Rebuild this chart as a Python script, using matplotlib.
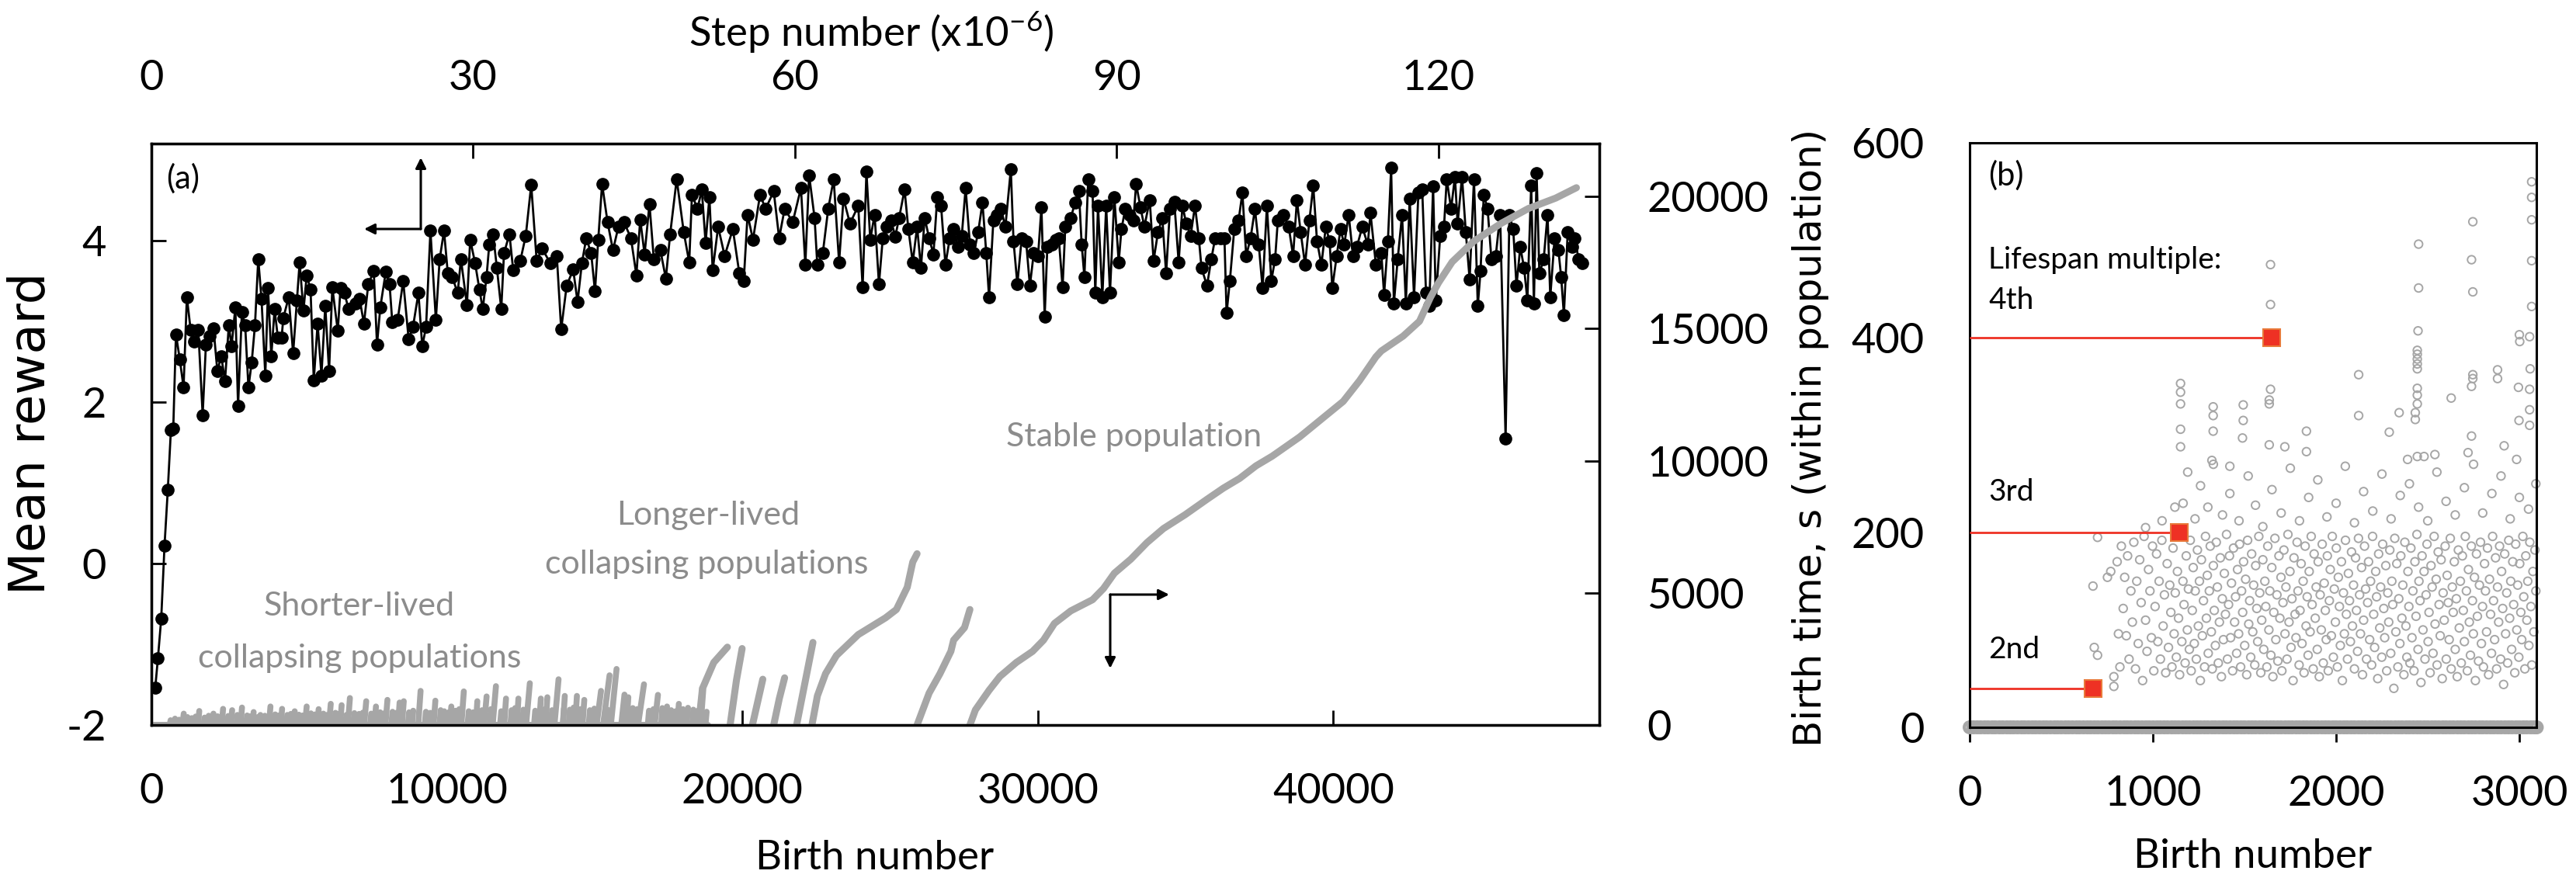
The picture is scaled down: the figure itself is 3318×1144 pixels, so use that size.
import matplotlib
matplotlib.use('Agg')
import matplotlib.pyplot as plt

plt.rcParams['font.family'] = ['Lato', 'DejaVu Sans']
plt.rcParams['axes.unicode_minus'] = False
plt.rcParams['mathtext.fontset'] = 'custom'
plt.rcParams['mathtext.rm'] = 'Lato'
plt.rcParams['mathtext.default'] = 'regular'

# ---------------- Panel (a) data ----------------
reward_birth = [
    130, 222, 333, 444, 555, 660, 740, 831, 960, 1089,
    1200, 1329, 1458, 1587, 1735, 1845, 1974, 2103, 2233, 2362,
    2491, 2620, 2712, 2841, 2933, 3062, 3173, 3284, 3394, 3505,
    3616, 3726, 3855, 3947, 4058, 4169, 4279, 4408, 4464, 4648,
    4796, 4925, 5017, 5146, 5257, 5386, 5496, 5625, 5755, 5884,
    6013, 6123, 6308, 6400, 6529, 6677, 6898, 7045, 7193, 7340,
    7525, 7635, 7746, 7930, 8060, 8152, 8336, 8521, 8705, 8853,
    9037, 9166, 9295, 9443, 9627, 9756, 9903, 10032, 10180, 10365,
    10475, 10678, 10789, 10955, 11102, 11213, 11342, 11434, 11563, 11692,
    11840, 11932, 12116, 12245, 12485, 12670, 12854, 13038, 13223, 13499,
    13720, 13868, 14053, 14274, 14422, 14569, 14717, 14883, 15012, 15122,
    15252, 15436, 15620, 15805, 15989, 16229, 16413, 16542, 16690, 16855,
    17003, 17224, 17409, 17556, 17777, 18017, 18201, 18294, 18479, 18626,
    18755, 18884, 18995, 19179, 19400, 19677, 19898, 20046, 20175, 20359,
    20599, 20783, 21060, 21244, 21429, 21705, 21982, 22130, 22258, 22443,
    22535, 22720, 22904, 23089, 23273, 23421, 23641, 23921, 24069, 24198,
    24327, 24474, 24622, 24751, 24880, 25027, 25175, 25304, 25488, 25617,
    25765, 25913, 26042, 26171, 26318, 26466, 26595, 26724, 26871, 27019,
    27148, 27296, 27425, 27554, 27701, 27830, 27978, 28125, 28254, 28347,
    28494, 28623, 28752, 28900, 29084, 29176, 29305, 29453, 29601, 29730,
    29859, 30006, 30120, 30230, 30320, 30467, 30596, 30707, 30836, 30928,
    31113, 31260, 31389, 31482, 31574, 31703, 31850, 31943, 32035, 32182,
    32311, 32440, 32588, 32735, 32828, 32957, 33104, 33233, 33325, 33473,
    33602, 33786, 33915, 34063, 34210, 34340, 34469, 34616, 34764, 34893,
    35022, 35169, 35317, 35446, 35538, 35723, 35870, 35999, 36184, 36313,
    36386, 36497, 36645, 36792, 36921, 37050, 37198, 37345, 37474, 37604,
    37751, 37899, 38028, 38120, 38305, 38489, 38637, 38766, 38894, 39042,
    39190, 39318, 39447, 39595, 39743, 39872, 39964, 40112, 40240, 40369,
    40517, 40665, 40794, 40978, 41163, 41255, 41439, 41623, 41716, 41845,
    41955, 42047, 42177, 42324, 42453, 42582, 42730, 42877, 43006, 43135,
    43246, 43375, 43467, 43615, 43744, 43836, 43984, 44113, 44205, 44353,
    44482, 44611, 44758, 44887, 44980, 45090, 45219, 45348, 45496, 45643,
    45828, 45957, 46086, 46196, 46325, 46454, 46565, 46694, 46786, 46878,
    46971, 47118, 47247, 47340, 47487, 47616, 47708, 47801, 47930, 48077,
    48169, 48298, 48409,
]
mean_reward = [
    -1.54, -1.17, -0.68, 0.22, 0.91, 1.65, 1.67, 2.84, 2.53, 2.18,
    3.30, 2.89, 2.75, 2.89, 1.84, 2.71, 2.82, 2.91, 2.38, 2.57,
    2.26, 2.95, 2.69, 3.17, 1.95, 3.11, 2.95, 2.18, 2.49, 2.95,
    3.77, 3.28, 2.33, 3.41, 2.57, 3.15, 2.80, 2.80, 3.04, 3.30,
    2.60, 3.26, 3.73, 3.13, 3.57, 3.39, 2.27, 2.97, 2.33, 3.19,
    2.38, 3.42, 2.88, 3.41, 3.35, 3.15, 3.22, 3.28, 2.97, 3.46,
    3.62, 2.71, 3.17, 3.61, 3.46, 2.99, 3.02, 3.50, 2.78, 2.93,
    3.35, 2.69, 2.93, 4.12, 3.02, 3.77, 4.12, 3.59, 3.55, 3.35,
    3.77, 3.20, 4.01, 3.72, 3.39, 3.15, 3.55, 3.95, 4.08, 3.66,
    3.15, 3.84, 4.08, 3.63, 3.75, 4.06, 4.69, 3.75, 3.90, 3.72,
    3.81, 2.90, 3.44, 3.64, 3.24, 3.72, 4.03, 3.84, 3.37, 4.01,
    4.70, 4.23, 3.88, 4.17, 4.23, 4.03, 3.57, 4.26, 3.83, 4.45,
    3.77, 3.88, 3.53, 4.08, 4.76, 4.10, 3.73, 4.57, 4.39, 4.63,
    3.97, 4.54, 3.63, 4.17, 3.81, 4.14, 3.59, 3.50, 4.32, 4.01,
    4.57, 4.39, 4.61, 4.03, 4.39, 4.23, 4.65, 3.70, 4.81, 4.28,
    3.70, 3.84, 4.39, 4.76, 3.73, 4.52, 4.21, 4.43, 3.42, 4.85,
    4.01, 4.32, 3.46, 4.03, 4.17, 4.25, 4.05, 4.28, 4.63, 4.14,
    3.73, 4.17, 3.66, 4.28, 4.03, 3.83, 4.54, 4.43, 3.70, 4.03,
    4.14, 3.92, 4.06, 4.65, 3.95, 3.84, 4.10, 4.47, 3.84, 3.30,
    4.25, 4.32, 4.39, 4.17, 4.88, 3.99, 3.46, 4.03, 3.99, 3.44,
    3.84, 3.81, 4.41, 3.06, 3.92, 3.95, 4.01, 4.03, 3.42, 4.17,
    4.28, 4.47, 4.61, 3.95, 3.55, 4.76, 4.61, 3.35, 4.43, 3.30,
    4.43, 3.35, 4.54, 3.73, 4.14, 4.39, 4.32, 4.25, 4.70, 4.41,
    4.17, 4.50, 3.75, 4.10, 4.28, 3.59, 4.39, 4.48, 3.73, 4.43,
    4.21, 4.06, 4.43, 4.03, 3.66, 3.44, 3.77, 4.03, 4.03, 4.03,
    3.10, 3.50, 4.14, 4.25, 4.59, 3.81, 4.03, 4.39, 3.95, 3.41,
    4.43, 3.50, 3.77, 4.25, 4.32, 4.17, 3.81, 4.50, 4.10, 3.70,
    4.25, 4.68, 3.99, 3.70, 4.17, 3.99, 3.41, 3.81, 4.14, 3.95,
    4.32, 3.81, 3.92, 4.17, 3.95, 4.34, 3.70, 3.84, 3.33, 3.99,
    4.90, 3.22, 3.77, 4.32, 3.22, 4.52, 3.30, 4.59, 4.63, 3.35,
    3.19, 4.67, 3.26, 4.06, 4.17, 4.76, 4.39, 4.79, 4.21, 4.79,
    4.10, 3.52, 4.76, 3.19, 3.62, 4.57, 4.39, 3.77, 3.81, 4.32,
    1.55, 4.32, 4.14, 3.44, 3.92, 3.66, 3.26, 4.68, 3.22, 4.83,
    3.59, 3.77, 4.32, 3.30, 4.03, 3.88, 3.55, 3.08, 4.10, 3.92,
    4.03, 3.77, 3.72,
]

# Population age lines (right axis): stable, longer-lived and tall collapsing ones
stable_birth = [27700, 27886, 28347, 28716, 29269, 29822, 30190, 30560, 31113, 31850,
                32219, 32588, 33141, 33694, 34248, 34985, 35723, 36276, 36829, 37382,
                37935, 38858, 39595, 40333, 40886, 41439, 41623, 42361, 42914, 43283,
                43559, 44020, 44758, 45680, 46602, 47524, 48225]
stable_age = [0, 571, 1310, 1837, 2365, 2787, 3210, 3843, 4318, 4740,
              5162, 5743, 6270, 6904, 7432, 7959, 8540, 8962, 9332, 9807,
              10176, 10898, 11572, 12245, 13031, 13930, 14154, 14716, 15278, 16176,
              16737, 17523, 18310, 18983, 19545, 19938, 20331]
longer1_birth = [22354, 22538, 22815, 23183, 23921, 24843, 25212, 25580, 25765, 25912]
longer1_age = [0, 1100, 1943, 2629, 3420, 4054, 4370, 5215, 6165, 6481]
longer2_birth = [25912, 26318, 26687, 27056, 27148, 27517, 27700]
longer2_age = [0, 1204, 1943, 2788, 3210, 3685, 4370]
tall_births = [[18570, 18663, 19031, 19492], [19585, 19800, 19991], [20340, 20691],
               [21060, 21250, 21429], [21835, 22100, 22388]]
tall_ages = [[0, 1415, 2365, 2946], [0, 1700, 2893], [0, 1732],
             [0, 1000, 1785], [0, 1500, 3125]]

# Short-lived collapsing populations: (first birth, last birth, final age)
short_pops = [
    (1050, 1095, 430), (1580, 1620, 530), (2060, 2100, 430), (2380, 2426, 610),
    (2690, 2733, 560), (3020, 3066, 660), (3420, 3460, 490), (3980, 4029, 700),
    (4380, 4423, 610), (4800, 4850, 520), (5200, 5255, 700), (5620, 5660, 600),
    (6010, 6070, 800), (6390, 6438, 750), (6650, 6718, 1020), (7200, 7270, 900),
    (7550, 7600, 700), (7920, 7988, 950), (8350, 8400, 850), (8480, 8541, 900),
    (9030, 9110, 1290), (9550, 9610, 920), (10100, 10150, 700), (10490, 10573, 1270),
    (10980, 11030, 900), (11260, 11344, 1080), (11550, 11660, 1470), (11940, 12001, 1000),
    (12370, 12420, 1000), (12680, 12807, 1580), (13120, 13180, 1000), (13340, 13400, 1050),
    (13640, 13779, 1730), (13930, 13990, 1100), (14340, 14400, 1100), (14590, 14650, 950),
    (15067, 15216, 1290), (15286, 15505, 1880), (15549, 15742, 2120), (15900, 16010, 1150),
    (16080, 16140, 1050), (16469, 16670, 1540), (17030, 17143, 1140), (17400, 17450, 700),
    (17800, 17850, 800), (18110, 18160, 650), (18500, 18632, 1390),
]
tiny_pops = [
    (620, 650, 180), (760, 800, 240), (905, 940, 200), (1180, 1220, 300), (1330, 1370, 260),
    (1470, 1500, 320), (1760, 1800, 280), (1900, 1940, 350), (2200, 2240, 330), (2290, 2330, 300),
    (2560, 2600, 340), (2870, 2910, 380), (3200, 3240, 360), (3300, 3340, 330), (3560, 3600, 300),
    (3650, 3690, 380), (3800, 3840, 350), (4150, 4190, 400), (4270, 4310, 360), (4560, 4600, 380),
    (4680, 4720, 420), (4950, 4990, 390), (5080, 5120, 360), (5360, 5400, 440), (5500, 5540, 400),
    (5780, 5820, 430), (5900, 5940, 380), (6190, 6230, 460), (6290, 6330, 420), (6560, 6600, 380),
    (6830, 6870, 450), (6990, 7030, 420), (7120, 7160, 470), (7400, 7440, 430), (7700, 7740, 480),
    (7830, 7870, 440), (8120, 8160, 500), (8250, 8290, 460), (8400, 8440, 520), (8680, 8720, 480),
    (8820, 8860, 540), (9250, 9290, 500), (9400, 9440, 460), (9750, 9790, 560), (9870, 9910, 520),
    (10020, 10060, 480), (10250, 10290, 540), (10380, 10420, 600), (10700, 10740, 520),
    (10850, 10890, 480), (11150, 11190, 560), (11450, 11490, 600), (11800, 11840, 520),
    (12150, 12190, 560), (12270, 12310, 640), (12550, 12590, 580), (12950, 12990, 540),
    (13280, 13320, 600), (13520, 13560, 560), (13920, 13960, 620), (14120, 14160, 580),
    (14250, 14290, 660), (14480, 14520, 600), (14800, 14840, 560), (14950, 14990, 620),
    (15400, 15440, 580), (16000, 16040, 560), (16250, 16290, 640), (16400, 16440, 600),
    (16800, 16840, 540), (16950, 16990, 600), (17250, 17290, 640), (17550, 17590, 560),
    (17700, 17740, 520), (17950, 17990, 600), (18300, 18340, 580), (18450, 18490, 540),
    (18750, 18790, 500),
]
baseline_birth = [0, 18800]
baseline_age = [0, 0]

bottom_ticks = [0, 10000, 20000, 30000, 40000]
left_ticks = [-2, 0, 2, 4]
right_ticks = [0, 5000, 10000, 15000, 20000]
top_ticks = [0, 30, 60, 90, 120]

# ---------------- Panel (b) data ----------------
zero_row_birth = [
    0, 20, 41, 60, 82, 101, 123, 140, 162, 181, 203, 222, 240, 261, 283, 300, 321, 342, 360, 381,
    402, 420, 441, 463, 480, 500, 522, 540, 561, 583, 600, 621, 642, 660, 681, 700, 722, 741, 760, 782,
    800, 821, 843, 860, 880, 902, 920, 941, 962, 980, 1001, 1022, 1040, 1061, 1080, 1102, 1121, 1140,
    1162, 1181, 1200, 1222, 1241, 1260, 1281, 1300, 1322, 1340, 1361, 1382, 1400, 1421, 1442, 1460,
    1481, 1500, 1522, 1541, 1560, 1582, 1600, 1621, 1642, 1660, 1681, 1700, 1722, 1741, 1760, 1782,
    1800, 1821, 1840, 1862, 1881, 1900, 1922, 1941, 1960, 1982, 2000, 2021, 2042, 2060, 2081, 2100,
    2122, 2141, 2160, 2182, 2200, 2221, 2240, 2262, 2281, 2300, 2322, 2341, 2360, 2382, 2400, 2421,
    2442, 2460, 2481, 2500, 2522, 2541, 2560, 2582, 2600, 2621, 2640, 2662, 2681, 2700, 2722, 2741,
    2760, 2782, 2800, 2821, 2842, 2860, 2881, 2900, 2922, 2941, 2960, 2982, 3000, 3021, 3040, 3062,
    3081, 3095,
]
cloud_low = [
    (673, 145), (680, 82), (698, 74), (698, 195), (752, 154), (770, 160), (787, 52), (787, 42),
    (805, 170), (812, 96), (820, 62), (828, 186), (838, 122), (846, 154), (855, 94), (862, 176),
    (870, 70), (880, 140), (888, 108), (896, 190),
    (905, 60), (912, 150), (920, 86), (928, 172), (936, 128), (944, 48), (952, 196), (960, 110),
    (968, 78), (976, 162), (984, 140), (992, 92), (998, 186),
    (1005, 58), (1012, 124), (1020, 178), (1027, 88), (1034, 150), (1041, 70), (1049, 192),
    (1056, 104), (1063, 136), (1070, 56), (1078, 168), (1085, 82), (1092, 146), (1098, 118),
    (1104, 62), (1110, 184), (1116, 96), (1122, 138), (1128, 72), (1134, 160), (1140, 112),
    (1146, 54), (1152, 198), (1158, 88), (1164, 150), (1170, 126), (1176, 66), (1182, 176),
    (1188, 100), (1194, 142), (1199, 80),
    (1204, 192), (1209, 58), (1215, 120), (1220, 164), (1226, 86), (1231, 140), (1237, 70),
    (1243, 182), (1248, 104), (1254, 150), (1259, 48), (1265, 172), (1270, 94), (1276, 130),
    (1282, 62), (1287, 196), (1292, 112), (1297, 156),
    (1302, 76), (1308, 140), (1313, 186), (1319, 98), (1324, 60), (1330, 166), (1335, 120),
    (1341, 84), (1346, 190), (1352, 144), (1357, 66), (1363, 108), (1368, 174), (1374, 52),
    (1379, 132), (1385, 90), (1390, 158), (1396, 116),
    (1402, 198), (1407, 70), (1413, 126), (1418, 176), (1424, 92), (1429, 148), (1435, 58),
    (1440, 184), (1446, 108), (1451, 134), (1457, 76), (1462, 162), (1468, 96), (1473, 188),
    (1479, 62), (1484, 140), (1490, 118), (1495, 170),
    (1501, 84), (1506, 152), (1512, 54), (1517, 192), (1523, 106), (1528, 130), (1534, 72),
    (1539, 178), (1545, 98), (1550, 146), (1556, 64), (1561, 166), (1567, 122), (1572, 88),
    (1578, 196), (1583, 138), (1589, 56), (1594, 110),
    (1600, 172), (1605, 80), (1611, 150), (1616, 124), (1622, 62), (1627, 186), (1633, 100),
    (1638, 140), (1644, 74), (1649, 164), (1655, 52), (1660, 118), (1666, 194), (1671, 90),
    (1677, 136), (1682, 68), (1688, 176), (1693, 112),
    (1699, 154), (1704, 58), (1710, 128), (1715, 182), (1721, 96), (1726, 144), (1732, 70),
    (1737, 198), (1743, 108), (1748, 160), (1754, 82), (1759, 132), (1765, 48), (1770, 174),
    (1776, 116), (1781, 92), (1787, 190), (1792, 140),
    (1798, 64), (1803, 120), (1809, 168), (1814, 86), (1820, 150), (1825, 56), (1831, 186),
    (1836, 104), (1842, 134), (1847, 74), (1853, 160), (1858, 98), (1864, 196), (1869, 126),
    (1875, 60), (1880, 178), (1886, 112), (1891, 144),
    (1897, 80), (1902, 170), (1908, 52), (1913, 136), (1919, 100), (1924, 188), (1930, 66),
    (1935, 148), (1941, 120), (1946, 90), (1952, 176), (1957, 58), (1963, 130), (1968, 162),
    (1974, 94), (1979, 196), (1985, 72), (1990, 142),
    (1996, 108), (2001, 184), (2007, 62), (2012, 154), (2018, 124), (2023, 84), (2029, 170),
    (2034, 48), (2040, 138), (2045, 96), (2051, 192), (2056, 116), (2062, 70), (2067, 158),
    (2073, 130), (2078, 88), (2084, 180), (2089, 104),
    (2095, 146), (2100, 60), (2106, 174), (2111, 120), (2117, 78), (2122, 194), (2128, 136),
    (2133, 96), (2139, 164), (2144, 54), (2150, 110), (2155, 186), (2161, 142), (2166, 70),
    (2172, 128), (2177, 170), (2183, 90), (2188, 150),
    (2194, 64), (2199, 196), (2205, 116), (2210, 82), (2216, 160), (2221, 134), (2227, 50),
    (2232, 178), (2238, 102), (2243, 144), (2249, 72), (2254, 188), (2260, 122), (2265, 92),
    (2271, 166), (2276, 58), (2282, 138), (2287, 108),
    (2293, 182), (2298, 76), (2304, 150), (2309, 126), (2315, 40), (2320, 194), (2326, 98),
    (2331, 168), (2337, 62), (2342, 132), (2348, 86), (2353, 176), (2359, 112), (2364, 146),
    (2370, 54), (2375, 190), (2381, 104), (2386, 72),
    (2392, 160), (2397, 124), (2403, 66), (2408, 184), (2414, 92), (2419, 140), (2425, 58),
    (2430, 170), (2436, 114), (2441, 198), (2447, 80), (2452, 150), (2458, 130), (2463, 46),
    (2469, 176), (2474, 100), (2480, 160), (2485, 70),
    (2491, 136), (2496, 188), (2502, 88), (2507, 118), (2513, 56), (2518, 166), (2524, 144),
    (2529, 76), (2535, 196), (2540, 106), (2546, 152), (2551, 64), (2557, 180), (2562, 126),
    (2568, 94), (2573, 172), (2579, 50), (2584, 138),
    (2590, 110), (2595, 186), (2601, 70), (2606, 156), (2612, 128), (2617, 90), (2623, 194),
    (2628, 60), (2634, 144), (2639, 118), (2645, 170), (2650, 80), (2656, 132), (2661, 52),
    (2667, 182), (2672, 102), (2678, 150), (2683, 66),
    (2689, 176), (2694, 120), (2700, 88), (2705, 196), (2711, 140), (2716, 58), (2722, 162),
    (2727, 108), (2733, 74), (2738, 186), (2744, 130), (2749, 96), (2755, 154), (2760, 48),
    (2766, 178), (2771, 114), (2777, 68), (2782, 146),
    (2788, 190), (2793, 86), (2799, 124), (2804, 62), (2810, 168), (2815, 140), (2821, 98),
    (2826, 184), (2832, 54), (2837, 152), (2843, 116), (2848, 76), (2854, 196), (2859, 130),
    (2865, 90), (2870, 174), (2876, 60), (2881, 144),
    (2887, 108), (2892, 186), (2898, 70), (2903, 160), (2909, 122), (2914, 44), (2920, 178),
    (2925, 96), (2931, 138), (2936, 66), (2942, 192), (2947, 112), (2953, 150), (2958, 80),
    (2964, 170), (2969, 126), (2975, 56), (2980, 188),
    (2986, 100), (2991, 146), (2997, 72), (3002, 168), (3008, 118), (3013, 90), (3019, 196),
    (3024, 134), (3030, 60), (3035, 176), (3041, 110), (3046, 150), (3052, 84), (3057, 190),
    (3063, 124), (3068, 64), (3074, 160), (3079, 98), (3085, 182), (3090, 140),
]
cloud_mid = [
    (1165, 230), (1190, 262), (1230, 214), (1260, 248), (1300, 226), (1330, 270), (1380, 218),
    (1420, 240), (1470, 212), (1520, 258), (1560, 228), (1600, 206), (1650, 244), (1700, 220),
    (1750, 266), (1800, 212), (1850, 236), (1900, 254), (1950, 216), (2000, 230), (2050, 268),
    (2100, 210), (2150, 242), (2200, 222), (2250, 260), (2300, 214), (2350, 238), (2400, 250),
    (2450, 226), (2500, 212), (2550, 262), (2600, 232), (2650, 218), (2700, 246), (2750, 270),
    (2800, 220), (2850, 240), (2900, 258), (2950, 214), (3000, 236), (3050, 224), (3090, 250),
    (1120, 226), (1420, 268), (2480, 278), (2720, 282), (1050, 212), (960, 205),
]
cloud_high = [
    (3067, 560), (3067, 544), (3067, 521), (2746, 519), (2450, 496), (1642, 475), (2739, 480),
    (3067, 479), (2450, 451), (2746, 447), (1642, 434), (3067, 432), (2447, 407), (3000, 403),
    (3002, 396), (3056, 401), (2443, 387), (2443, 383), (2443, 378), (2443, 373), (2443, 368),
    (2123, 362), (2746, 362), (2746, 358), (2739, 350), (2881, 367), (2881, 358), (3059, 368),
    (1151, 353), (1151, 344), (1151, 332), (1642, 347), (1635, 336), (1635, 332), (1329, 329),
    (1329, 320), (1329, 304), (1493, 331), (1493, 315), (1489, 297), (2443, 348), (2443, 341),
    (2443, 332), (2432, 323), (2432, 316), (2344, 323), (2628, 338), (2995, 349), (2998, 315),
    (3056, 347), (3056, 326), (3056, 310), (2917, 289), (2123, 320), (2290, 303), (1151, 306),
    (1151, 288), (1322, 274), (1635, 290), (1720, 288), (1838, 304), (1838, 283), (2539, 280),
    (2390, 275), (2443, 278), (2739, 299), (2985, 275),
]
lifespan_birth = [675, 1145, 1650]
lifespan_time = [40, 200, 400]
lifespan_labels = ['2nd', '3rd', '4th']
b_xticks = [0, 1000, 2000, 3000]
b_yticks = [0, 200, 400, 600]

# ---------------- Figure ----------------
W, H = 3318, 1144
fig = plt.figure(figsize=(W / 100, H / 100), dpi=100)


def fx(x):
    return x / W


def fy(y):
    return 1 - y / H


GRAY = '#a6a6a6'
TXTGRAY = '#8c8c8c'
RED = '#ee3124'

ax = fig.add_axes([fx(195), fy(934), fx(2060) - fx(195), fy(185) - fy(934)])
axr = ax.twinx()
axt = ax.twiny()
ax.set_xlim(0, 49000)
ax.set_ylim(-2, 5.2)
axr.set_ylim(0, 22000)
axt.set_xlim(0, 135)

# gray population lines (bottom / right axes)
lw_g = 6.5
axr.plot(baseline_birth, baseline_age, color=GRAY, lw=lw_g, solid_capstyle='round')
for s, e, p in tiny_pops:
    axr.plot([s, e], [0, p], color=GRAY, lw=5.5, solid_capstyle='round')
for s, e, p in short_pops:
    axr.plot([s, e], [0, p], color=GRAY, lw=5.5, solid_capstyle='round')
for bx, by in zip(tall_births, tall_ages):
    axr.plot(bx, by, color=GRAY, lw=lw_g, solid_capstyle='round')
axr.plot(longer1_birth, longer1_age, color=GRAY, lw=lw_g, solid_capstyle='round')
axr.plot(longer2_birth, longer2_age, color=GRAY, lw=lw_g, solid_capstyle='round')
axr.plot(stable_birth, stable_age, color=GRAY, lw=lw_g, solid_capstyle='round')

# black reward series (top / left axes)
ax.plot(reward_birth, mean_reward, '-o', color='black', lw=2, ms=11, zorder=3)

for a in (ax, axr, axt):
    for sp in a.spines.values():
        sp.set_linewidth(2.3)

ax.set_xticks(bottom_ticks)
ax.set_xticklabels([str(v) for v in bottom_ticks])
ax.set_yticks(left_ticks)
ax.set_yticklabels([str(v) for v in left_ticks])
axr.set_yticks(right_ticks)
axr.set_yticklabels([str(v) for v in right_ticks])
axt.set_xticks(top_ticks)
axt.set_xticklabels([str(v) for v in top_ticks])
ax.tick_params(axis='x', direction='in', length=14, width=2, labelsize=39, pad=44)
ax.tick_params(axis='y', direction='in', length=14, width=2, labelsize=39, pad=42)
axr.tick_params(axis='y', direction='in', length=14, width=2, labelsize=39, pad=44)
axt.tick_params(axis='x', direction='in', length=14, width=2, labelsize=39, pad=43)

# labels & annotations panel a
fig.text(fx(1127), fy(1105), 'Birth number', ha='center', va='center', fontsize=38)
fig.text(fx(1122), fy(42), 'Step number (x10$^{-6}$)', ha='center', va='center', fontsize=38)
fig.text(fx(40), fy(558), 'Mean reward', rotation=90, ha='center', va='center',
         fontsize=46, family='DejaVu Sans')
fig.text(fx(214), fy(230), '(a)', ha='left', va='center', fontsize=30)
fig.text(fx(463), fy(781), 'Shorter-lived', ha='center', va='center', fontsize=31, color=TXTGRAY)
fig.text(fx(463), fy(848), 'collapsing populations', ha='center', va='center', fontsize=31, color=TXTGRAY)
fig.text(fx(912), fy(664), 'Longer-lived', ha='center', va='center', fontsize=31, color=TXTGRAY)
fig.text(fx(910), fy(727), 'collapsing populations', ha='center', va='center', fontsize=31, color=TXTGRAY)
fig.text(fx(1461), fy(563), 'Stable population', ha='center', va='center', fontsize=31, color=TXTGRAY)

arrow_kw = dict(arrowstyle='-|>', lw=2.2, color='black', mutation_scale=20, shrinkA=0, shrinkB=0)


def farrow(x0, y0, x1, y1):
    fig.add_artist(matplotlib.patches.FancyArrowPatch(
        (fx(x0), fy(y0)), (fx(x1), fy(y1)), transform=fig.transFigure, **arrow_kw))


farrow(542, 295, 542, 203)
farrow(542, 295, 469, 295)
farrow(1430, 766, 1506, 766)
farrow(1430, 766, 1430, 861)

# ---------------- Panel (b) ----------------
axb = fig.add_axes([fx(2537), fy(937), fx(3267) - fx(2537), fy(184) - fy(937)])
axb.set_xlim(0, 3093)
axb.set_ylim(0, 600)
for sp in axb.spines.values():
    sp.set_linewidth(2.2)

circ = dict(s=56, facecolors='none', edgecolors=GRAY, linewidths=1.4, clip_on=False, zorder=2)
axb.scatter(zero_row_birth, [0] * len(zero_row_birth), s=95, facecolors='none',
            edgecolors=GRAY, linewidths=3.2, clip_on=False, zorder=2)
for pts in (cloud_low, cloud_mid, cloud_high):
    axb.scatter([p[0] for p in pts], [p[1] for p in pts], **circ)

for bx, ty in zip(lifespan_birth, lifespan_time):
    axb.plot([0, bx], [ty, ty], color=RED, lw=2, zorder=3, solid_capstyle='butt')
    axb.plot([bx], [ty], 's', ms=16, mfc=RED, mec='#e8793a', mew=1.5, zorder=4, clip_on=False)

axb.set_xticks(b_xticks)
axb.set_xticklabels([str(v) for v in b_xticks])
axb.set_yticks(b_yticks)
axb.set_yticklabels([str(v) for v in b_yticks])
axb.tick_params(axis='x', direction='out', length=14, width=2, labelsize=39, pad=30)
axb.tick_params(axis='y', length=0, labelsize=39, pad=42)

fig.text(fx(2902), fy(1103), 'Birth number', ha='center', va='center', fontsize=38)
fig.text(fx(2332), fy(564), 'Birth time, s (within population)', rotation=90,
         ha='center', va='center', fontsize=36, family='DejaVu Sans')
fig.text(fx(2561), fy(226), '(b)', ha='left', va='center', fontsize=30)
fig.text(fx(2561), fy(335), 'Lifespan multiple:', ha='left', va='center', fontsize=28)
lab_y = {'4th': 387, '3rd': 634, '2nd': 837}
for lab in lifespan_labels:
    fig.text(fx(2561), fy(lab_y[lab]), lab, ha='left', va='center', fontsize=28)

fig.savefig('out.png', dpi=100, facecolor='white')
